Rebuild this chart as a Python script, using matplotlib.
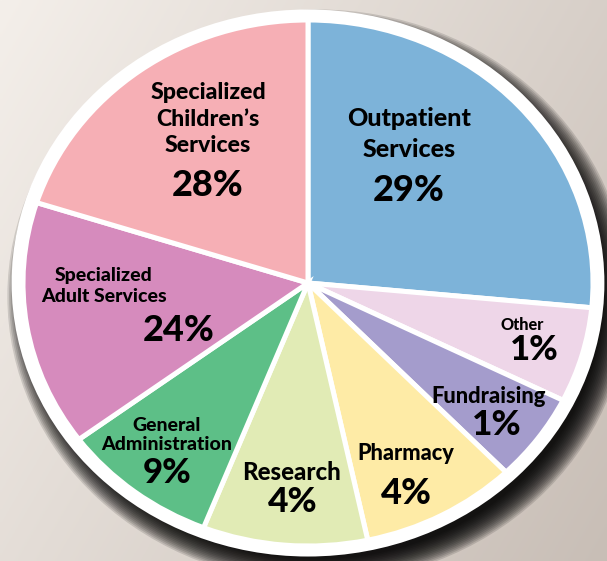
import numpy as np
import matplotlib.pyplot as plt
from matplotlib.patches import Ellipse

# slices, clockwise from the top
names = ['Outpatient\nServices', 'Other', 'Fundraising', 'Pharmacy', 'Research',
         'General\nAdministration', 'Specialized\nAdult Services',
         'Specialized\nChildren\u2019s\nServices']
pcts = ['29%', '1%', '1%', '4%', '4%', '9%', '24%', '28%']
# slice sizes as drawn in the picture (degrees)
sizes = [95.4, 21.1, 19.5, 31.9, 33.6, 32.0, 54.3, 72.2]
colors = ['#7db3d9', '#eed6e8', '#a49ccc', '#feeba6', '#e1ebb5',
          '#5dbf87', '#d68bbd', '#f6afb5']

# label placement in pixels: (x, y, fontsize, linespacing)
name_pos = [(409, 134, 18, 1.45), (522, 325, 11.7, 1.2), (489, 396, 15.8, 1.2),
            (406, 453, 15.7, 1.2), (292, 472, 17.3, 1.2), (167, 435, 14, 1.2),
            (104, 286, 14, 1.25), (208, 119, 16.7, 1.3)]
pct_pos = [(409, 190, 26), (534, 350, 25), (497, 425, 25.5), (406, 493, 26),
           (293, 502, 25.5), (167, 473, 25), (179, 330, 26), (208, 185, 26)]

W, H = 607, 561
CX, CY, RX, RY = 308, 283, 285, 263   # pie centre and radii in pixels


def px(x, y):
    return (x - CX) / RX, (CY - y) / RY


fig = plt.figure(figsize=(W / 100, H / 100), dpi=100)

# background gradient
bg = fig.add_axes([0, 0, 1, 1])
gx, gy = np.meshgrid(np.linspace(0, 1, 200), np.linspace(0, 1, 200))
t = 0.65 * gx + 0.35 * gy
c0 = np.array([244, 239, 234]) / 255
c1 = np.array([200, 190, 182]) / 255
img = c0 + (c1 - c0) * t[..., None]
bg.imshow(img, extent=[0, 1, 0, 1], aspect='auto', origin='upper')
bg.axis('off')

ax = fig.add_axes([0, 0, 1, 1])
ax.patch.set_alpha(0)

# soft drop shadow
for i in range(16):
    r = 1.09 - i * 0.006
    ax.add_patch(Ellipse((0.035, -0.05), 2 * r, 2 * r, color='black',
                         alpha=0.13, lw=0, zorder=1))

# white rim
ax.add_patch(Ellipse((0, 0), 2.08, 2.08, color='white', lw=0, zorder=2))

wedges, _ = ax.pie(sizes, colors=colors, startangle=90, counterclock=False,
                   radius=1.0, wedgeprops=dict(edgecolor='white', linewidth=3.6))
for w in wedges:
    w.set_zorder(3)

ax.set_aspect('auto')
x0, y0 = px(0, 0)
x1, y1 = px(W, H)
ax.set_xlim(x0, x1)
ax.set_ylim(y1, y0)
ax.axis('off')

font = 'Lato'
for name, (x, y, fs, ls) in zip(names, name_pos):
    ax.text(*px(x, y), name, ha='center', va='center', fontsize=fs,
            fontweight='black', family=font, linespacing=ls, zorder=5)
for p, (x, y, fs) in zip(pcts, pct_pos):
    ax.text(*px(x, y), p, ha='center', va='center', fontsize=fs,
            fontweight='black', family=font, zorder=5)

fig.savefig('out.png', dpi=100)
